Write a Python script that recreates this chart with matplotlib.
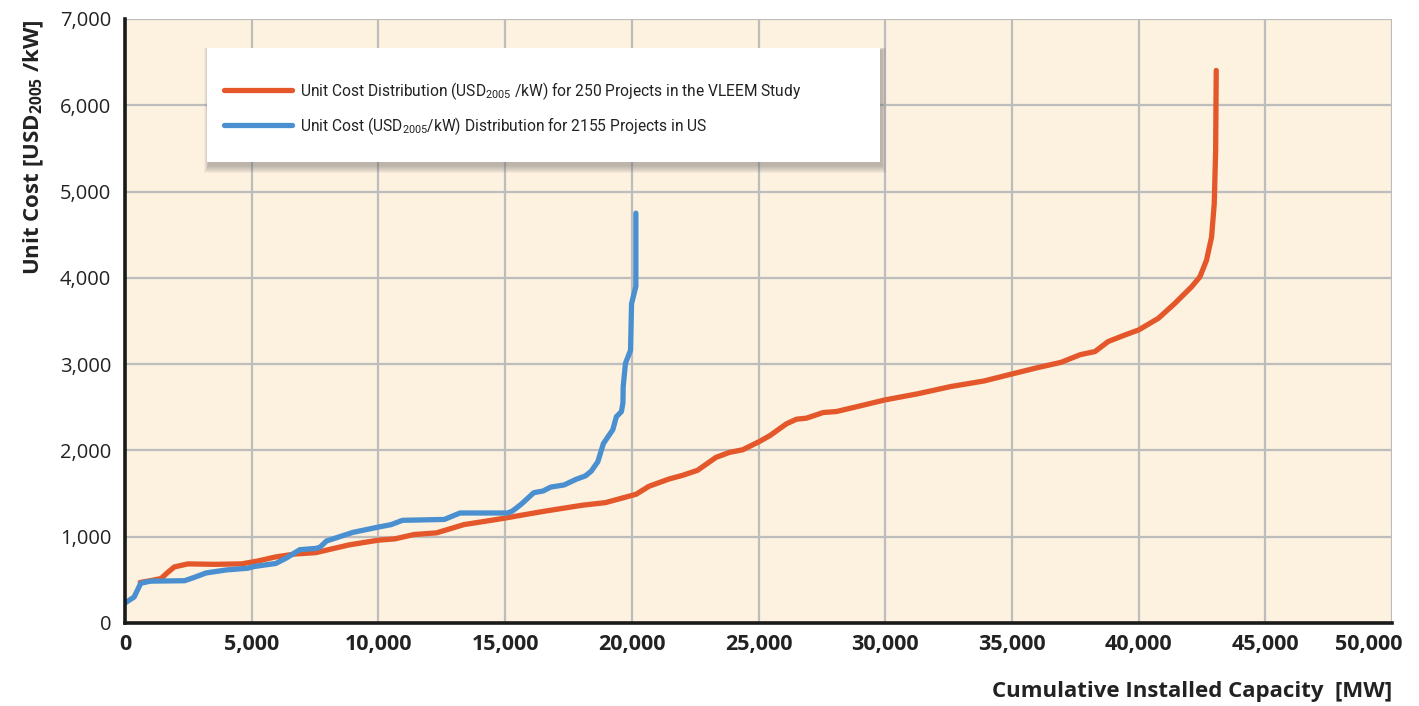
import numpy as np
import matplotlib
matplotlib.use("Agg")
import matplotlib.pyplot as plt
from matplotlib.patches import Rectangle
from matplotlib.ticker import FuncFormatter
from matplotlib.transforms import ScaledTranslation

plt.rcParams['font.family'] = ['Open Sans', 'DejaVu Sans']
plt.rcParams['mathtext.default'] = 'regular'

# VLEEM study, 250 projects (cumulative MW, USD2005/kW)
vleem_mw = [600, 1000, 1420, 1700, 1950, 2480, 3540, 4600, 5270, 5930, 6720, 7520,
            8840, 10000, 10650, 11400, 12300, 13370, 14880, 16540, 18050, 18960,
            20170, 20675, 21470, 22000, 22590, 23320, 23850, 24380, 25040, 25440,
            26100, 26500, 26890, 27550, 28080, 29010, 30000, 31260, 32580, 33900,
            35000, 36020, 36940, 37700, 38280, 38800, 39460, 40000, 40780, 41430,
            42090, 42420, 42680, 42880, 42985, 43040, 43064]
vleem_cost = [470, 490, 515, 590, 650, 685, 680, 685, 720, 765, 800, 815,
              905, 960, 975, 1025, 1045, 1140, 1210, 1295, 1365, 1395,
              1492, 1584, 1669, 1711, 1769, 1919, 1977, 2008, 2104, 2170,
              2308, 2362, 2374, 2439, 2451, 2516, 2586, 2655, 2740, 2805,
              2886, 2960, 3021, 3110, 3146, 3262, 3338, 3396, 3531, 3704,
              3896, 4012, 4204, 4473, 4858, 5473, 6404]

# US, 2155 projects
us_mw = [0, 360, 620, 1000, 2350, 2745, 3200, 4000, 4850, 5100, 5950, 6350, 6900,
         7550, 7700, 7950, 8990, 10050, 10500, 10950, 12600, 13220, 15110, 15300,
         15650, 16130, 16500, 16800, 17330, 17800, 18170, 18400, 18660, 18880,
         19250, 19390, 19590, 19650, 19660, 19750, 19950, 19990, 20160, 20160]
us_cost = [232, 301, 460, 485, 490, 530, 580, 615, 635, 655, 690, 750, 850,
           865, 880, 950, 1050, 1115, 1140, 1190, 1200, 1275, 1275, 1300,
           1380, 1510, 1530, 1575, 1600, 1665, 1705, 1760, 1870, 2080,
           2240, 2390, 2450, 2550, 2740, 3010, 3160, 3700, 3900, 4750]

vleem_label = "Unit Cost Distribution (USD$_{2005}$ /kW) for 250 Projects in the VLEEM Study"
us_label = "Unit Cost (USD$_{2005}$/kW) Distribution for 2155 Projects in US"

orange = '#E4572A'
blue = '#4A90D0'

fig = plt.figure(figsize=(14.19, 7.06), dpi=100)
ax = fig.add_axes([125/1419, 83/706, 1267/1419, 604/706])
ax.set_facecolor('#FDF1DF')

ax.plot(vleem_mw, vleem_cost, color=orange, lw=3.8, solid_capstyle='round',
        solid_joinstyle='round', label=vleem_label, zorder=3)
ax.plot(us_mw, us_cost, color=blue, lw=3.8, solid_capstyle='round',
        solid_joinstyle='round', label=us_label, zorder=4)

ax.set_xlim(0, 50000)
ax.set_ylim(0, 7000)
ax.set_xticks(np.arange(0, 50001, 5000))
ax.set_yticks(np.arange(0, 7001, 1000))
fmt = FuncFormatter(lambda v, p: f"{int(v):,}")
ax.xaxis.set_major_formatter(fmt)
ax.yaxis.set_major_formatter(fmt)
ax.tick_params(length=0, colors='#222222')
ax.tick_params(axis='x', pad=8, labelsize=15.5)
ax.tick_params(axis='y', pad=10, labelsize=14.5)
xlabels = ax.get_xticklabels()
for t in xlabels:
    t.set_fontweight('bold')
# last label is pulled in so it stays inside the figure
xlabels[-1].set_horizontalalignment('right')
xlabels[-1].set_transform(xlabels[-1].get_transform() +
                          ScaledTranslation(11/100, 0, fig.dpi_scale_trans))

ax.grid(True, color='#BDBDBD', lw=1.6, zorder=1)
ax.set_axisbelow(True)
for s in ['top', 'right']:
    ax.spines[s].set_visible(False)
for s in ['left', 'bottom']:
    ax.spines[s].set_linewidth(2.6)
    ax.spines[s].set_color('#1a1a1a')
    ax.spines[s].set_zorder(5)

ax.set_xlabel("Cumulative Installed Capacity  [MW]", fontsize=16, fontweight='bold',
              loc='right', labelpad=19, color='#222222')
ax.set_ylabel("Unit Cost [USD$_{2005}$ /kW]", fontsize=16, fontweight='bold',
              loc='top', labelpad=10, color='#222222')

# legend box with soft shadow
bx, by, bw, bh = 0.0647, 0.763, 0.531, 0.189
for i in range(8):
    d = 0.0011 * (8 - i)
    ax.add_patch(Rectangle((bx - d * 0.4 + 0.0015, by - d * 1.5 - 0.004),
                           bw + d * 0.8, bh + d * 2.0,
                           transform=ax.transAxes, facecolor='#707070', alpha=0.07,
                           edgecolor='none', zorder=6))
ax.add_patch(Rectangle((bx, by), bw, bh, transform=ax.transAxes,
                       facecolor='white', edgecolor='none', zorder=7))
leg = ax.legend(loc='center left', bbox_to_anchor=(0.078, 0.852),
                frameon=False, handlelength=4.4, handletextpad=0.5,
                labelspacing=0.85, borderpad=0, borderaxespad=0,
                prop={'family': 'Roboto', 'size': 11.2})
leg.set_zorder(8)
for t in leg.get_texts():
    t.set_color('#222222')
for h in leg.get_lines():
    h.set_linewidth(3.8)

fig.savefig('out.png', dpi=100)
